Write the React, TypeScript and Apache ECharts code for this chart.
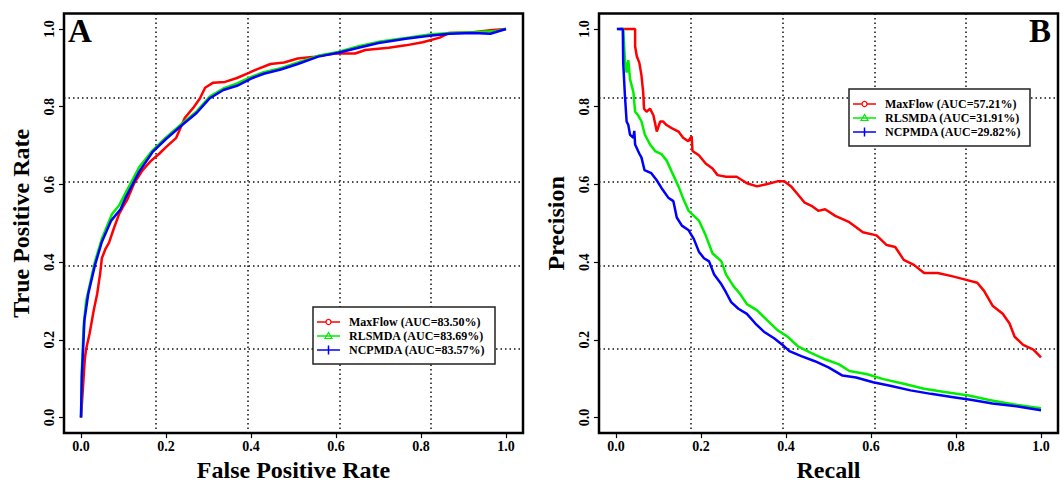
import React, { useEffect, useRef } from "react";
import * as echarts from "echarts";

const tickValues = [0, 0.2, 0.4, 0.6, 0.8, 1.0];
const seriesNames = ["MaxFlow", "RLSMDA", "NCPMDA"];
const seriesColors = ["#ff0000", "#00ee00", "#0000ff"];
const aucROC = ["83.50%", "83.69%", "83.57%"];
const aucPR = ["57.21%", "31.91%", "29.82%"];

const rocMaxFlow = [[0,0],[0.003,0.05],[0.006,0.1],[0.009,0.15],[0.012,0.176],[0.02,0.215],[0.03,0.276],[0.038,0.318],[0.045,0.37],[0.049,0.41],[0.058,0.435],[0.066,0.45],[0.077,0.486],[0.09,0.525],[0.1,0.545],[0.109,0.561],[0.125,0.603],[0.145,0.637],[0.164,0.66],[0.184,0.679],[0.2,0.696],[0.224,0.72],[0.232,0.74],[0.244,0.771],[0.264,0.797],[0.28,0.822],[0.292,0.849],[0.311,0.862],[0.339,0.864],[0.367,0.874],[0.391,0.885],[0.415,0.897],[0.446,0.91],[0.478,0.914],[0.51,0.924],[0.55,0.929],[0.597,0.937],[0.645,0.937],[0.669,0.946],[0.724,0.952],[0.764,0.958],[0.804,0.966],[0.844,0.978],[0.867,0.99],[0.923,0.992],[0.963,0.997],[1,1]];
const rocRLSMDA = [[0,0],[0.002,0.12],[0.006,0.234],[0.012,0.3],[0.019,0.334],[0.033,0.402],[0.049,0.46],[0.073,0.524],[0.089,0.545],[0.101,0.57],[0.137,0.645],[0.168,0.687],[0.2,0.721],[0.24,0.759],[0.272,0.788],[0.303,0.826],[0.335,0.847],[0.367,0.86],[0.399,0.876],[0.43,0.889],[0.47,0.899],[0.51,0.914],[0.558,0.931],[0.605,0.941],[0.653,0.956],[0.7,0.967],[0.764,0.977],[0.82,0.986],[0.867,0.99],[0.923,0.992],[0.97,0.994],[1,1]];
const rocNCPMDA = [[0,0],[0.002,0.108],[0.005,0.176],[0.008,0.25],[0.017,0.318],[0.033,0.393],[0.049,0.452],[0.071,0.507],[0.093,0.536],[0.105,0.566],[0.137,0.633],[0.168,0.683],[0.2,0.717],[0.24,0.755],[0.272,0.784],[0.303,0.822],[0.335,0.843],[0.367,0.854],[0.399,0.872],[0.43,0.885],[0.47,0.896],[0.51,0.91],[0.558,0.929],[0.605,0.939],[0.653,0.952],[0.7,0.964],[0.764,0.975],[0.82,0.983],[0.867,0.988],[0.923,0.99],[0.963,0.988],[1,1]];

const prMaxFlow = [[0.01,1],[0.045,1],[0.045,0.955],[0.049,0.93],[0.055,0.913],[0.06,0.88],[0.064,0.837],[0.066,0.795],[0.072,0.787],[0.08,0.795],[0.088,0.778],[0.096,0.736],[0.104,0.762],[0.111,0.762],[0.119,0.753],[0.131,0.745],[0.147,0.736],[0.158,0.72],[0.17,0.711],[0.178,0.724],[0.18,0.686],[0.195,0.675],[0.211,0.654],[0.227,0.641],[0.239,0.624],[0.259,0.62],[0.284,0.62],[0.308,0.603],[0.332,0.595],[0.356,0.601],[0.38,0.608],[0.396,0.608],[0.412,0.595],[0.428,0.574],[0.444,0.553],[0.46,0.545],[0.476,0.532],[0.492,0.536],[0.516,0.519],[0.549,0.503],[0.581,0.477],[0.613,0.469],[0.637,0.444],[0.657,0.439],[0.677,0.406],[0.701,0.393],[0.725,0.372],[0.757,0.372],[0.79,0.364],[0.822,0.355],[0.85,0.347],[0.866,0.326],[0.886,0.288],[0.91,0.267],[0.926,0.242],[0.938,0.208],[0.958,0.187],[0.982,0.175],[1,0.155]];
const prRLSMDA = [[0.004,1],[0.017,1],[0.021,0.92],[0.025,0.888],[0.029,0.92],[0.033,0.871],[0.041,0.837],[0.045,0.787],[0.052,0.778],[0.06,0.762],[0.068,0.728],[0.08,0.703],[0.092,0.686],[0.107,0.678],[0.119,0.662],[0.131,0.633],[0.147,0.595],[0.159,0.561],[0.171,0.532],[0.195,0.507],[0.211,0.469],[0.227,0.423],[0.248,0.402],[0.259,0.368],[0.276,0.339],[0.292,0.318],[0.308,0.292],[0.332,0.276],[0.356,0.25],[0.38,0.225],[0.404,0.208],[0.428,0.183],[0.46,0.166],[0.492,0.15],[0.525,0.137],[0.549,0.12],[0.589,0.112],[0.629,0.099],[0.677,0.087],[0.725,0.074],[0.773,0.066],[0.83,0.057],[0.878,0.045],[0.934,0.034],[1,0.024]];
const prNCPMDA = [[0.002,1],[0.016,1],[0.017,0.913],[0.021,0.829],[0.025,0.762],[0.029,0.753],[0.033,0.728],[0.041,0.72],[0.043,0.738],[0.045,0.703],[0.052,0.686],[0.055,0.679],[0.06,0.669],[0.067,0.637],[0.083,0.629],[0.095,0.612],[0.107,0.591],[0.123,0.566],[0.135,0.557],[0.143,0.515],[0.155,0.494],[0.171,0.482],[0.183,0.46],[0.195,0.427],[0.207,0.41],[0.219,0.402],[0.231,0.368],[0.248,0.343],[0.259,0.322],[0.271,0.297],[0.288,0.28],[0.308,0.267],[0.328,0.242],[0.348,0.221],[0.372,0.204],[0.392,0.187],[0.408,0.171],[0.436,0.158],[0.468,0.145],[0.5,0.129],[0.533,0.108],[0.565,0.103],[0.605,0.091],[0.645,0.082],[0.693,0.07],[0.741,0.061],[0.79,0.053],[0.838,0.045],[0.886,0.036],[0.942,0.029],[1,0.019]];

const FONT = "'Liberation Serif', 'Times New Roman', serif";

function mainAxis(gridIndex: number, name: string, isX: boolean) {
  return {
    type: "value",
    gridIndex,
    min: -0.04,
    max: 1.04,
    position: isX ? "bottom" : "left",
    name,
    nameLocation: "middle",
    nameGap: isX ? 20 : 31,
    nameTextStyle: { fontFamily: FONT, fontWeight: "bold", fontSize: 24, color: "#000" },
    axisLine: { show: false, onZero: false },
    axisTick: { show: true, customValues: tickValues, length: 5, inside: false, lineStyle: { color: "#000", width: 1.2 } },
    axisLabel: {
      show: true,
      customValues: tickValues,
      formatter: (v: number) => v.toFixed(1),
      fontFamily: FONT,
      fontWeight: "bold",
      fontSize: 14,
      color: "#000",
      margin: isX ? 6 : 8,
      rotate: isX ? 0 : 90,
    },
    splitLine: { show: false },
  };
}

function gridAxis(gridIndex: number, isX: boolean) {
  return {
    type: "value",
    gridIndex,
    min: 0,
    max: 5,
    interval: 1,
    position: isX ? "top" : "right",
    axisLine: { show: false, onZero: false },
    axisTick: { show: false },
    axisLabel: { show: false },
    splitLine: {
      show: true,
      showMinLine: false,
      showMaxLine: false,
      lineStyle: { color: "#111", width: 1.5, type: [1.5, 3] },
    },
  };
}

function legendGraphic(left: number, top: number, w: number, aucs: string[]) {
  const Z = 100;
  const children: any[] = [
    { type: "rect", z: Z, shape: { x: left, y: top, width: w, height: 57 }, style: { fill: "#fff", stroke: "#222", lineWidth: 1.5 } },
  ];
  seriesNames.forEach((nm, i) => {
    const cy = top + 15 + i * 14;
    const col = seriesColors[i];
    const sx = left + 15.5;
    children.push({ type: "line", z: Z + 1, shape: { x1: left + 4, y1: cy, x2: left + 27, y2: cy }, style: { stroke: col, lineWidth: 1.5 } });
    if (i === 0) {
      children.push({ type: "circle", z: Z + 2, shape: { cx: sx, cy, r: 2.5 }, style: { fill: "#fff", stroke: col, lineWidth: 1.2 } });
    } else if (i === 1) {
      children.push({ type: "polygon", z: Z + 2, shape: { points: [[sx, cy - 3.5], [sx - 3.5, cy + 2.5], [sx + 3.5, cy + 2.5]] }, style: { fill: "none", stroke: col, lineWidth: 1.2 } });
    } else {
      children.push({ type: "line", z: Z + 2, shape: { x1: sx, y1: cy - 4.5, x2: sx, y2: cy + 4.5 }, style: { stroke: col, lineWidth: 1.5 } });
    }
    children.push({
      type: "text",
      z: Z + 2,
      x: left + 36,
      y: cy,
      style: { text: `${nm} (AUC=${aucs[i]})`, fontFamily: FONT, fontWeight: "bold", fontSize: 12, fill: "#000", verticalAlign: "middle", align: "left" },
    });
  });
  return { type: "group", z: Z, children };
}

function lineSeries(name: string, data: number[][], color: string, axisIdx: number) {
  return {
    type: "line",
    name,
    xAxisIndex: axisIdx,
    yAxisIndex: axisIdx,
    data,
    showSymbol: false,
    symbol: "none",
    lineStyle: { color, width: 2.5 },
    itemStyle: { color },
    z: 3,
  };
}

export default function App() {
  const ref = useRef<HTMLDivElement>(null);
  useEffect(() => {
    if (!ref.current) return;
    const chart = echarts.init(ref.current, null, { renderer: "svg" });
    const gridStyle = { show: true, borderColor: "#000", borderWidth: 2.5, backgroundColor: "transparent" };
    chart.setOption({
      animation: false,
      backgroundColor: "#fff",
      grid: [
        { left: 64, top: 13.5, width: 459, height: 428.5, ...gridStyle },
        { left: 599, top: 13.5, width: 459, height: 428.5, ...gridStyle },
      ],
      xAxis: [
        mainAxis(0, "False Positive Rate", true),
        gridAxis(0, true),
        mainAxis(1, "Recall", true),
        gridAxis(1, true),
      ],
      yAxis: [
        mainAxis(0, "True Positive Rate", false),
        gridAxis(0, false),
        mainAxis(1, "Precision", false),
        gridAxis(1, false),
      ],
      series: [
        lineSeries("MaxFlow", rocMaxFlow, seriesColors[0], 0),
        lineSeries("RLSMDA", rocRLSMDA, seriesColors[1], 0),
        lineSeries("NCPMDA", rocNCPMDA, seriesColors[2], 0),
        lineSeries("MaxFlow", prMaxFlow, seriesColors[0], 2),
        lineSeries("RLSMDA", prRLSMDA, seriesColors[1], 2),
        lineSeries("NCPMDA", prNCPMDA, seriesColors[2], 2),
      ],
      graphic: [
        { type: "text", z: 100, x: 68, y: 31, style: { text: "A", fontFamily: FONT, fontWeight: "bold", fontSize: 33, fill: "#000", verticalAlign: "middle", align: "left" } },
        { type: "text", z: 100, x: 1051, y: 31, style: { text: "B", fontFamily: FONT, fontWeight: "bold", fontSize: 33, fill: "#000", verticalAlign: "middle", align: "right" } },
        legendGraphic(313, 307, 182, aucROC),
        legendGraphic(849, 89, 181, aucPR),
      ],
    });
    return () => chart.dispose();
  }, []);
  return <div ref={ref} style={{ position: "fixed", left: 0, top: 0, width: 1063, height: 487 }} />;
}
